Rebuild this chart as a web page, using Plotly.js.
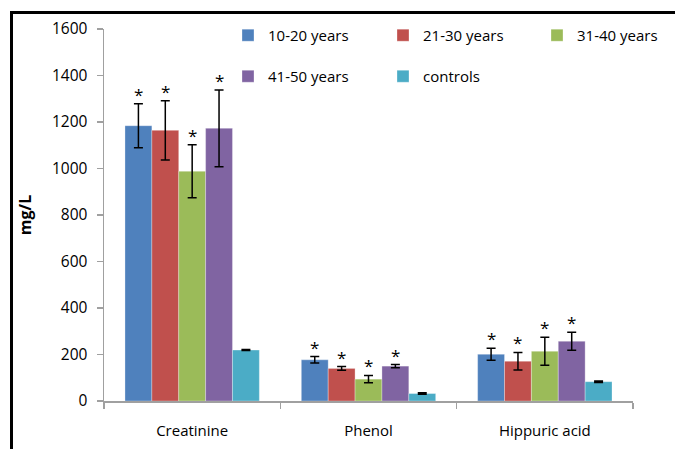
<!DOCTYPE html>
<html>
<head>
<meta charset="utf-8">
<script src="https://cdn.plot.ly/plotly-3.0.1.min.js"></script>
<style>
  html, body { margin: 0; padding: 0; background: #fff; }
  #wrap { position: relative; width: 675px; height: 449px; }
  #chart { position: absolute; left: 0; top: 0; width: 675px; height: 449px; }
  #frame { position: absolute; left: 10px; top: 11px; width: 665px; height: 438px;
           border-top: 3px solid #000; border-left: 3px solid #000; box-sizing: border-box;
           pointer-events: none; }
</style>
</head>
<body>
<div id="wrap">
  <div id="chart"></div>
  <div id="frame"></div>
</div>
<script>
// ---- data ----
const categories = ['Creatinine', 'Phenol', 'Hippuric acid'];
const seriesNames = ['10-20 years', '21-30 years', '31-40 years', '41-50 years', 'controls'];
const age10_20 = [1184, 177, 201];
const age10_20Err = [95, 14, 26];
const age21_30 = [1164, 140, 171];
const age21_30Err = [127, 8, 38];
const age31_40 = [988, 94, 214];
const age31_40Err = [114, 16, 60];
const age41_50 = [1173, 150, 257];
const age41_50Err = [165, 7, 39];
const controls = [219, 32, 83];
const controlsErr = [2, 3, 3];
const significant = [true, true, true, true, false]; // '*' marks per series

// ---- styling ----
const colors = ['#4F81BD', '#C0504D', '#9BBB59', '#8064A2', '#4BACC6'];
const values = [age10_20, age21_30, age31_40, age41_50, controls];
const errors = [age10_20Err, age21_30Err, age31_40Err, age41_50Err, controlsErr];
const font = '"Open Sans", Lato, sans-serif';
const bargap = 0.238;
const legendIds = ['legend', 'legend2', 'legend3', 'legend4', 'legend5'];
// legend placement (paper coords): 3 columns x 2 rows
const legendX = [0.2344, 0.5274, 0.8185, 0.2344, 0.5274];
const legendY = [1.027, 1.027, 1.027, 0.9167, 0.9167];

const traces = seriesNames.map((name, i) => ({
  type: 'bar',
  name: name,
  x: categories,
  y: values[i],
  marker: { color: colors[i], line: { color: 'rgba(255,255,255,0.5)', width: 0.6 } },
  error_y: { type: 'data', array: errors[i], visible: true, color: '#000', thickness: 1.5, width: 4.5 },
  legend: legendIds[i],
  hoverinfo: 'x+y+name'
}));

// star annotations above error bars
const nSeries = seriesNames.length;
const bw = (1 - bargap) / nSeries;
const annotations = [];
for (let i = 0; i < nSeries; i++) {
  if (!significant[i]) continue;
  for (let c = 0; c < categories.length; c++) {
    annotations.push({
      xref: 'x', yref: 'y',
      x: c - (1 - bargap) / 2 + (i + 0.5) * bw,
      y: values[i][c] + errors[i][c],
      text: '*', showarrow: false,
      xanchor: 'center', yanchor: 'bottom', yshift: -4,
      font: { family: font, size: 17, color: '#000' }
    });
  }
}

const layout = {
  width: 675, height: 449,
  margin: { l: 104, r: 42, t: 29, b: 48 },
  paper_bgcolor: '#fff', plot_bgcolor: '#fff',
  barmode: 'group', bargap: bargap, bargroupgap: 0,
  font: { family: font, size: 15, color: '#000' },
  xaxis: {
    type: 'category', tickson: 'boundaries', ticks: 'outside', ticklen: 6, tickwidth: 1.5,
    tickcolor: '#A0A0A0', showline: true, linecolor: '#A0A0A0', linewidth: 1.5,
    showgrid: false, zeroline: false, ticklabelstandoff: 15,
    tickfont: { family: font, size: 15, color: '#000' }, fixedrange: true
  },
  yaxis: {
    range: [0, 1600], dtick: 200, tick0: 0, ticks: 'outside', ticklen: 6, tickwidth: 1.5,
    tickcolor: '#A0A0A0', showline: true, linecolor: '#A0A0A0', linewidth: 1.5,
    showgrid: false, zeroline: false, ticklabelstandoff: 6,
    tickfont: { family: font, size: 15.5, color: '#000' },
    title: { text: '<b>mg/L</b>', standoff: 16, font: { family: font, size: 16, color: '#000' } },
    fixedrange: true
  },
  annotations: annotations,
  showlegend: true
};
legendIds.forEach((id, i) => {
  layout[id] = {
    orientation: 'h', xanchor: 'left', yanchor: 'top',
    x: legendX[i], y: legendY[i],
    font: { family: font, size: 15, color: '#000' },
    bgcolor: 'rgba(0,0,0,0)', itemclick: false, itemdoubleclick: false
  };
});

Plotly.newPlot('chart', traces, layout, { displayModeBar: false, staticPlot: true });
</script>
</body>
</html>
